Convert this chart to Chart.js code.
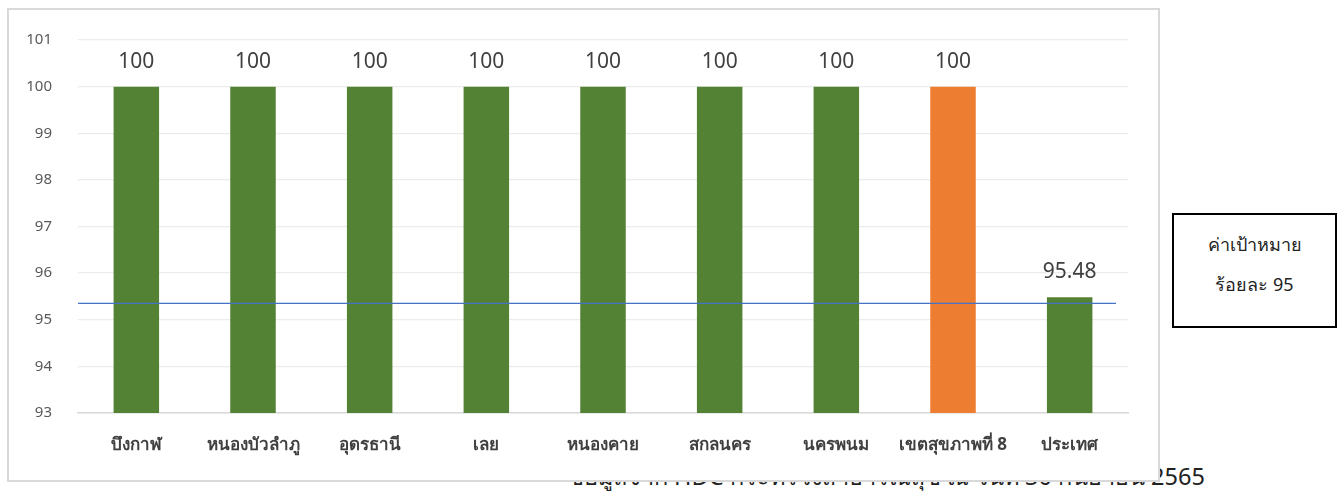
<!DOCTYPE html>
<html>
<head>
<meta charset="utf-8">
<script src="https://cdn.jsdelivr.net/npm/chart.js@4.4.0/dist/chart.umd.min.js"></script>
<style>
  body { margin: 0; width: 1342px; height: 491px; background: #fff; position: relative; overflow: hidden;
         font-family: "Noto Sans", sans-serif; }
  #note { position: absolute; left: 568px; top: 458px; font-size: 23.5px; color: #222; white-space: nowrap; z-index: 0; }
  #frame { position: absolute; left: 7px; top: 8px; width: 1149px; height: 470px; border: 2px solid #d9d9d9;
           background: #fff; z-index: 1; }
  #frame canvas { position: absolute; left: 0; top: -5px; }
  #target { position: absolute; left: 1172px; top: 213px; width: 161px; height: 111px; border: 2px solid #000;
            z-index: 2; text-align: center; font-size: 18px; color: #222; }
  #target div { position: absolute; left: 0; width: 100%; }
</style>
</head>
<body>
<div id="note">ข้อมูลจาก HDC กระทรวงสาธารณสุข ณ วันที่ 30 กันยายน 2565</div>
<div id="frame"><canvas id="myChart" width="1149" height="475"></canvas></div>
<div id="target"><div style="top:15px">ค่าเป้าหมาย</div><div style="top:55px">ร้อยละ 95</div></div>
<script>
// จังหวัด / ค่าร้อยละ
const categories = ['บึงกาฬ', 'หนองบัวลำภู', 'อุดรธานี', 'เลย', 'หนองคาย', 'สกลนคร', 'นครพนม', 'เขตสุขภาพที่ 8', 'ประเทศ'];
const values = [100, 100, 100, 100, 100, 100, 100, 100, 95.48];
const barColors = ['#548235', '#548235', '#548235', '#548235', '#548235', '#548235', '#548235', '#ED7D31', '#548235'];
const yTicks = [93, 94, 95, 96, 97, 98, 99, 100, 101];
const targetLine = 95.35;

// ตัวเลขบนแท่ง + เส้นเป้าหมาย
const barLabels = {
    id: 'barLabels',
    afterDatasetsDraw(chart) {
        const ctx = chart.ctx;
        const area = chart.chartArea;
        const y = chart.scales.y.getPixelForValue(targetLine);
        ctx.save();
        ctx.strokeStyle = '#4472C4';
        ctx.lineWidth = 1.3;
        ctx.beginPath();
        ctx.moveTo(area.left, y);
        ctx.lineTo(area.right - 12, y);
        ctx.stroke();

        ctx.font = '21px "Noto Sans", sans-serif';
        ctx.fillStyle = '#404040';
        ctx.textAlign = 'center';
        ctx.textBaseline = 'middle';
        chart.getDatasetMeta(0).data.forEach((bar, i) => {
            ctx.fillText(String(values[i]), bar.x, bar.y - 25);
        });
        ctx.restore();
    }
};

const myChart = new Chart(document.getElementById('myChart'), {
    type: 'bar',
    data: {
        labels: categories,
        datasets: [{
            data: values,
            backgroundColor: barColors,
            barPercentage: 0.39,
            categoryPercentage: 1
        }]
    },
    options: {
        responsive: false,
        animation: false,
        layout: { padding: { top: 24, right: 30, left: 0, bottom: 0 } },
        plugins: { legend: { display: false }, tooltip: { enabled: false } },
        scales: {
            x: {
                afterFit: s => { s.height = 67; },
                grid: { display: false, drawTicks: false },
                border: { color: '#d9d9d9', width: 1.5 },
                ticks: { padding: 22, color: '#404040', font: { size: 17, weight: 'bold', family: '"Noto Sans", sans-serif' } }
            },
            y: {
                min: 93,
                max: 101,
                afterFit: s => { s.width = 69; },
                afterBuildTicks: s => { s.ticks = yTicks.map(v => ({ value: v })); },
                grid: { color: '#ececec', lineWidth: 1.3, drawTicks: false },
                border: { display: false },
                ticks: { padding: 26, color: '#595959', font: { size: 15, family: '"Noto Sans", sans-serif' } }
            }
        }
    },
    plugins: [barLabels]
});
</script>
</body>
</html>
